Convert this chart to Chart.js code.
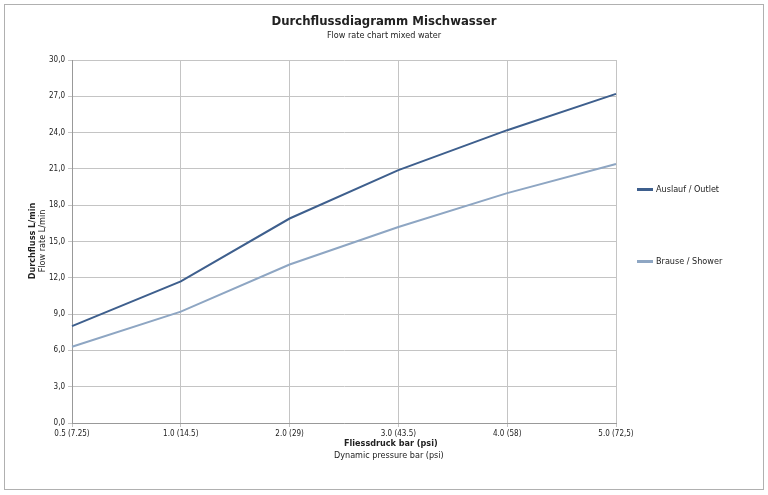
<!DOCTYPE html>
<html><head><meta charset="utf-8">
<script src="https://cdn.jsdelivr.net/npm/chart.js@4"></script>
<style>
body{margin:0;background:#fff;font-family:"DejaVu Sans Condensed","Liberation Sans",sans-serif;}
#wrap{position:absolute;left:0;top:0;width:768px;height:495px;}
#frame{position:absolute;left:4px;top:4px;width:758px;height:484px;border:1px solid #b0b0b0;}
.t{position:absolute;color:#222;white-space:nowrap;}
.leg{position:absolute;font-size:9px;color:#222;}
.leg span{display:inline-block;width:16px;height:0;border-top:3px solid;vertical-align:middle;margin-right:3px;}
</style></head>
<body>
<div id="wrap">
<div id="frame"></div>
<canvas id="c" width="768" height="495"></canvas>
<div class="t" style="left:0;width:768px;text-align:center;top:13px;font-size:13px;font-weight:bold;">Durchflussdiagramm Mischwasser</div>
<div class="t" style="left:0;width:768px;text-align:center;top:30px;font-size:9px;">Flow rate chart mixed water</div>
<div class="t" style="left:344px;width:80px;text-align:center;top:438px;font-size:9px;font-weight:bold;">Fliessdruck bar (psi)</div>
<div class="t" style="left:334px;width:100px;text-align:center;top:450px;font-size:9px;">Dynamic pressure bar (psi)</div>
<div class="t" style="left:-18px;top:236px;width:100px;text-align:center;font-size:9px;font-weight:bold;transform:rotate(-90deg);">Durchfluss L/min</div>
<div class="t" style="left:-8px;top:236px;width:100px;text-align:center;font-size:9px;transform:rotate(-90deg);">Flow rate L/min</div>
<div class="leg" style="left:637px;top:184px;"><span style="border-color:#3e5f8d"></span>Auslauf / Outlet</div>
<div class="leg" style="left:637px;top:256px;"><span style="border-color:#8ea6c3"></span>Brause / Shower</div>
</div>
<script>
const pressures = ['0.5 (7.25)', '1.0 (14.5)', '2.0 (29)', '3.0 (43.5)', '4.0 (58)', '5.0 (72,5)'];
const outlet = [8.0, 11.7, 16.9, 20.9, 24.2, 27.2];
const shower = [6.3, 9.2, 13.1, 16.2, 19.0, 21.4];

const ctx = document.getElementById('c').getContext('2d');
new Chart(ctx, {
    type: 'line',
    data: {
        labels: pressures,
        datasets: [
            {label: 'Auslauf / Outlet', data: outlet, borderColor: '#3e5f8d', borderWidth: 2, pointRadius: 0, tension: 0},
            {label: 'Brause / Shower', data: shower, borderColor: '#8ea6c3', borderWidth: 2, pointRadius: 0, tension: 0}
        ]
    },
    options: {
        responsive: false,
        animation: false,
        layout: {padding: {left: 0, top: 60, right: 152, bottom: 52}},
        plugins: {legend: {display: false}, tooltip: {enabled: false}},
        scales: {
            x: {
                offset: false,
                grid: {color: '#c4c4c4', drawTicks: true, tickLength: 4},
                border: {color: '#999'},
                ticks: {color: '#222', font: {size: 8, family: 'DejaVu Sans Condensed'}, maxRotation: 0, padding: 2},
                afterFit: s => { s.height = 20; }
            },
            y: {
                min: 0, max: 30,
                grid: {color: '#c4c4c4', tickLength: 4},
                border: {color: '#999'},
                ticks: {stepSize: 3, color: '#222', font: {size: 8, family: 'DejaVu Sans Condensed'},
                    callback: v => v.toFixed(1).replace('.', ',')},
                afterFit: s => { s.width = 72; }
            }
        }
    }
});
</script>
</body></html>
